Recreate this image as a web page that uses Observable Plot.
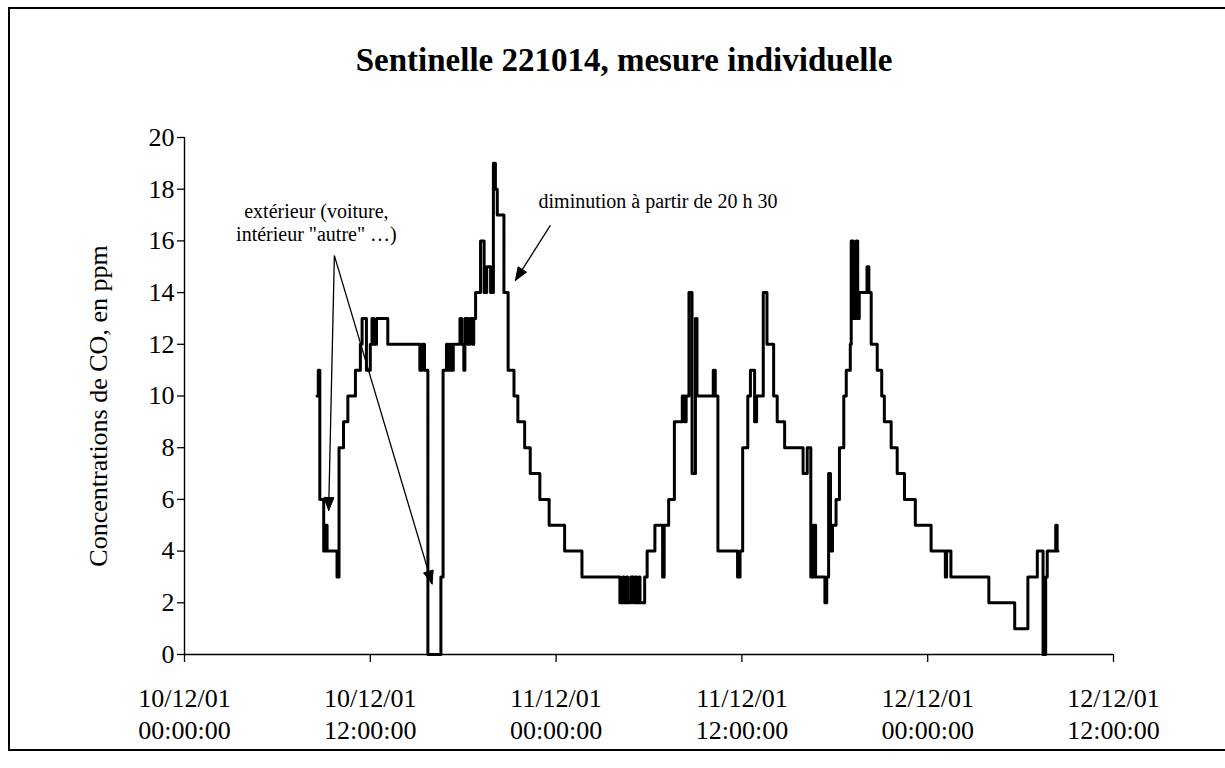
<!DOCTYPE html>
<html><head><meta charset="utf-8">
<script src="https://cdn.jsdelivr.net/npm/d3@7"></script>
<script src="https://cdn.jsdelivr.net/npm/@observablehq/plot@0.6"></script>
<style>
html,body{margin:0;padding:0;background:#fff;overflow:hidden;}
#wrap{position:relative;width:1225px;height:768px;overflow:hidden;font-family:"Liberation Serif","Times New Roman",serif;color:#000;}
#chart{position:absolute;left:0;top:0;}
#title{position:absolute;left:0;width:1248px;top:44px;text-align:center;font-weight:bold;font-size:33px;line-height:33px;}
#frame{position:absolute;left:8px;top:7px;width:1217px;height:744px;border-top:2px solid #000;border-left:2px solid #000;border-bottom:2px solid #000;border-right:none;box-sizing:border-box;pointer-events:none;}
</style></head><body>
<div id="wrap"><div id="chart"></div><div id="title">Sentinelle 221014, mesure individuelle</div><div id="frame"></div></div>
<script>
// Hours since 10/12/01 00:00:00 at which the reading changes (value holds until next time)
const hours = [
  8.56, 8.64, 8.74, 8.99, 9.10, 9.21, 9.85, 9.98, 10.27, 10.55,
  11.04, 11.36, 11.47, 11.75, 12.00, 12.11, 12.22, 12.40, 13.13, 15.20,
  15.35, 15.50, 15.72, 16.56, 16.70, 16.92, 17.03, 17.14, 17.25, 17.36,
  17.79, 17.90, 18.04, 18.11, 18.30, 18.43, 18.60, 18.68, 18.80, 19.12,
  19.35, 19.52, 19.77, 19.95, 20.08, 20.20, 20.63, 20.90, 21.28, 21.53,
  21.97, 22.33, 22.95, 23.55, 24.55, 25.67, 28.12, 28.30, 28.38, 28.55,
  28.62, 28.82, 29.00, 29.10, 29.20, 29.35, 29.42, 29.72, 29.88, 30.38,
  30.88, 30.98, 31.27, 31.64, 32.15, 32.30, 32.40, 32.58, 32.78, 33.00,
  33.10, 34.15, 34.28, 34.45, 35.72, 35.88, 36.05, 36.38, 36.55, 36.82,
  36.95, 37.38, 37.62, 38.05, 38.28, 38.76, 39.95, 40.22, 40.45, 40.62,
  40.76, 41.36, 41.48, 41.60, 41.72, 41.85, 42.08, 42.30, 42.58, 42.74,
  43.00, 43.06, 43.20, 43.38, 43.48, 43.58, 44.08, 44.20, 44.35, 44.74,
  45.03, 45.20, 45.64, 46.03, 46.50, 47.20, 48.22, 49.14, 49.22, 49.50,
  51.95, 53.62, 54.47, 55.08, 55.45, 55.62, 55.72, 56.27, 56.36, 56.42
];
// CO concentration in ppm
const ppm = [
  10, 11, 6, 4, 5, 4, 3, 8, 9, 10,
  11, 12, 13, 11, 12, 13, 12, 13, 12, 11,
  12, 11, 0, 3, 11, 12, 11, 12, 11, 12,
  13, 12, 11, 13, 12, 13, 12, 13, 14, 16,
  14, 15, 14, 19, 18, 17, 14, 11, 10, 9,
  8, 7, 6, 5, 4, 3, 2, 3, 2, 3,
  2, 3, 2, 3, 2, 3, 2, 3, 4, 5,
  3, 5, 6, 9, 10, 9, 10, 14, 7, 13,
  10, 11, 10, 4, 3, 4, 8, 10, 11, 9,
  10, 14, 12, 10, 9, 8, 7, 8, 3, 5,
  3, 2, 3, 7, 4, 5, 6, 8, 10, 11,
  12, 16, 13, 16, 13, 14, 15, 14, 12, 11,
  10, 9, 8, 7, 6, 5, 4, 3, 4, 3,
  2, 1, 3, 4, 0, 3, 4, 5, 4, 4
];

const xTickHours = [0, 12, 24, 36, 48, 60];
const xTickLabels = ["10/12/01\n00:00:00", "10/12/01\n12:00:00", "11/12/01\n00:00:00",
                     "11/12/01\n12:00:00", "12/12/01\n00:00:00", "12/12/01\n12:00:00"];
const yTicks = [0, 2, 4, 6, 8, 10, 12, 14, 16, 18, 20];
const yLabel = "Concentrations de CO, en ppm";

// Annotations (in data units: hours, ppm)
const noteText = ["extérieur (voiture,\nintérieur \"autre\" …)", "diminution à partir de 20 h 30"];
const noteH = [8.52, 30.58];
const noteV = [16.72, 17.54];
const arrowFromH = [9.68, 9.68, 23.63];
const arrowFromV = [15.43, 15.43, 16.60];
const arrowToH = [9.31, 15.99, 21.37];
const arrowToV = [5.57, 2.73, 14.47];

const W = 1225, H = 768, mL = 184, mR = 112, mT = 137, mB = 114;
const kx = (W - mL - mR) / 60, ky = (H - mT - mB) / 20;

const series = hours.map((h, i) => ({h, v: ppm[i]}));
const notes = noteText.map((t, i) => ({t, h: noteH[i], v: noteV[i]}));
const arrows = arrowFromH.map((h, i) => ({h1: h, v1: arrowFromV[i], h2: arrowToH[i], v2: arrowToV[i]}));

// filled arrowheads
const headLen = 13, headHalf = 5;
const heads = [];
arrows.forEach((a, i) => {
  const dxp = (a.h2 - a.h1) * kx, dyp = -(a.v2 - a.v1) * ky;
  const len = Math.hypot(dxp, dyp);
  const ux = dxp / len, uy = dyp / len, nx = -uy, ny = ux;
  const offs = [[0, 0], [-headLen * ux + headHalf * nx, -headLen * uy + headHalf * ny],
                [-headLen * ux - headHalf * nx, -headLen * uy - headHalf * ny], [0, 0]];
  offs.forEach(([ox, oy]) => heads.push({k: i, h: a.h2 + ox / kx, v: a.v2 - oy / ky}));
});

const chart = Plot.plot({
  width: W, height: H,
  marginLeft: mL, marginRight: mR, marginTop: mT, marginBottom: mB,
  style: {fontFamily: "Liberation Serif", fontSize: "26px", color: "#000", background: "transparent", overflow: "visible"},
  x: {domain: [0, 60]},
  y: {domain: [0, 20]},
  marks: [
    Plot.axisX(xTickHours, {tickFormat: d => xTickLabels[xTickHours.indexOf(d)], tickSize: 8, tickPadding: 22,
      lineHeight: 1.23, fontSize: 26, strokeWidth: 1.3, label: null}),
    Plot.axisY(yTicks, {tickSize: 7, tickPadding: 3, fontSize: 26, strokeWidth: 1.3, label: null}),
    Plot.ruleX([0], {stroke: "#000", strokeWidth: 1.4}),
    Plot.ruleY([0], {stroke: "#000", strokeWidth: 1.4}),
    Plot.line(series, {x: "h", y: "v", curve: "step-after", stroke: "#000", strokeWidth: 3}),
    Plot.link(arrows, {x1: "h1", y1: "v1", x2: "h2", y2: "v2", stroke: "#000", strokeWidth: 1.3}),
    Plot.line(heads, {x: "h", y: "v", z: "k", fill: "#000", stroke: "#000", strokeWidth: 1, curve: "linear"}),
    Plot.text(notes, {x: "h", y: "v", text: "t", fontSize: 20, lineHeight: 1.13, textAnchor: "middle", lineAnchor: "middle", fill: "#000"}),
    Plot.text([yLabel], {text: d => d, frameAnchor: "left", textAnchor: "middle", lineAnchor: "middle", dx: -86, dy: 10, rotate: -90, fontSize: 26, fill: "#000"})
  ]
});
document.getElementById("chart").appendChild(chart);
</script></body></html>
